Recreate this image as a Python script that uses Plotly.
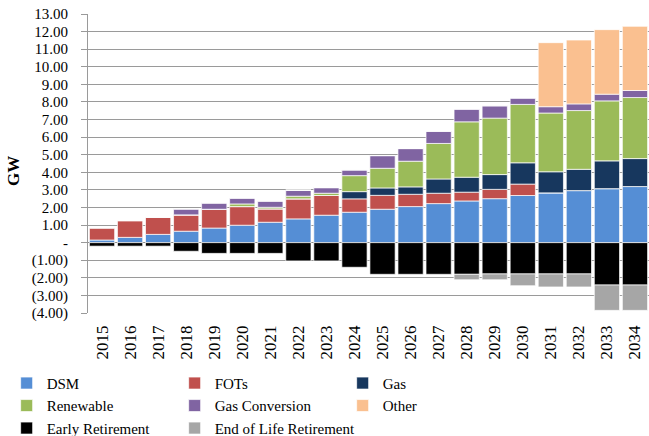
import plotly.graph_objects as go

years = [str(y) for y in range(2015, 2035)]

dsm = [0.15, 0.30, 0.47, 0.65, 0.83, 0.99, 1.16, 1.35, 1.56, 1.73, 1.90, 2.05, 2.22, 2.37, 2.50, 2.68, 2.83, 2.96, 3.07, 3.19]
fots = [0.70, 0.95, 0.99, 0.93, 1.07, 1.06, 0.76, 1.14, 1.12, 0.76, 0.79, 0.70, 0.59, 0.50, 0.53, 0.65, 0.0, 0.0, 0.0, 0.0]
gas = [0, 0, 0, 0, 0, 0, 0, 0, 0, 0.41, 0.42, 0.42, 0.81, 0.85, 0.84, 1.21, 1.20, 1.21, 1.58, 1.59]
renewable = [0, 0.02, 0, 0, 0, 0.15, 0.09, 0.15, 0.13, 0.91, 1.12, 1.46, 2.02, 3.15, 3.21, 3.32, 3.34, 3.34, 3.41, 3.47]
gas_conversion = [0, 0, 0, 0.34, 0.36, 0.34, 0.36, 0.34, 0.32, 0.33, 0.72, 0.72, 0.70, 0.72, 0.70, 0.36, 0.36, 0.38, 0.38, 0.40]
other = [0, 0, 0, 0, 0, 0, 0, 0, 0, 0, 0, 0, 0, 0, 0, 0, 3.64, 3.63, 3.67, 3.65]
early_retirement = [-0.20, -0.20, -0.20, -0.49, -0.61, -0.61, -0.61, -1.04, -1.04, -1.40, -1.80, -1.80, -1.80, -1.80, -1.78, -1.78, -1.78, -1.78, -2.41, -2.41]
eol_retirement = [0, 0, 0, 0, 0, 0, 0, 0, 0, 0, 0, 0, 0, -0.31, -0.33, -0.67, -0.74, -0.74, -1.44, -1.44]

tick_vals = list(range(-4, 14))
tick_text = ["(4.00)", "(3.00)", "(2.00)", "(1.00)", "-", "1.00", "2.00", "3.00", "4.00",
             "5.00", "6.00", "7.00", "8.00", "9.00", "10.00", "11.00", "12.00", "13.00"]

series = [
    ("DSM", dsm, "#558ED5"),
    ("FOTs", fots, "#C0504D"),
    ("Gas", gas, "#17375E"),
    ("Renewable", renewable, "#9BBB59"),
    ("Gas Conversion", gas_conversion, "#8064A2"),
    ("Other", other, "#FAC090"),
    ("Early Retirement", early_retirement, "#000000"),
    ("End of Life Retirement", eol_retirement, "#A6A6A6"),
]

FONT = "Liberation Serif, Times New Roman, serif"

fig = go.Figure()
for name, vals, color in series:
    fig.add_trace(go.Bar(
        x=years, y=vals, name=name,
        marker=dict(color=color, line=dict(color="rgba(255,255,255,0.7)", width=1)),
    ))

PLOT_W = 561
fig.update_layout(
    width=649, height=436,
    barmode="relative",
    bargap=0.1,
    plot_bgcolor="white",
    paper_bgcolor="white",
    margin=dict(l=88, r=0, t=14, b=123, autoexpand=False),
    font=dict(family=FONT, size=15, color="black"),
    legend=dict(
        orientation="h",
        x=-0.145, xanchor="left",
        y=-0.18, yanchor="top",
        entrywidth=123, entrywidthmode="pixels",
        font=dict(family=FONT, size=15, color="black"),
        traceorder="normal",
        itemclick=False,
    ),
    showlegend=True,
)

fig.update_xaxes(
    type="category",
    tickangle=-90,
    tickfont=dict(family=FONT, size=17),
    showgrid=False,
    showline=False,
    ticks="",
    ticklabelstandoff=8,
)

fig.update_yaxes(
    range=[-4, 13],
    tickvals=tick_vals,
    ticktext=tick_text,
    tickfont=dict(family=FONT, size=15),
    showgrid=True, gridcolor="#9a9a9a", gridwidth=1,
    zeroline=True, zerolinecolor="#888888", zerolinewidth=1,
    showline=True, linecolor="#9a9a9a", linewidth=1,
    ticks="outside", ticklen=6, tickcolor="#9a9a9a",
    ticklabelstandoff=10,
)

fig.add_annotation(
    text="<b>GW</b>", textangle=-90,
    xref="paper", yref="paper",
    x=(14 - 88) / PLOT_W, y=0.475, xanchor="center", yanchor="middle",
    showarrow=False,
    font=dict(family=FONT, size=17, color="black"),
)

fig.write_html(
    "out.html",
    config={"displayModeBar": False},
    post_script="document.body.style.margin='0';document.body.style.overflow='hidden';",
)
